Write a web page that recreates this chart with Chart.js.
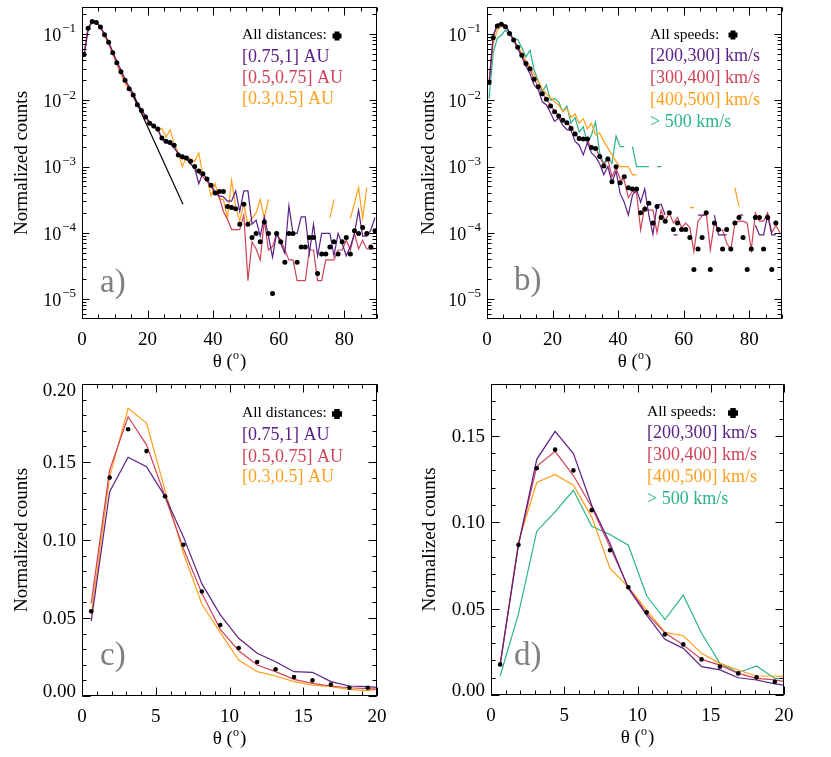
<!DOCTYPE html>
<html>
<head>
<meta charset="utf-8">
<title>Normalized counts vs theta</title>
<script src="https://cdn.jsdelivr.net/npm/chart.js@4.4.1/dist/chart.umd.min.js"></script>
<style>
  html, body { margin: 0; padding: 0; background: #fff; }
  canvas { position: absolute; }
</style>
</head>
<body>
<canvas id="panelA" width="415" height="380" style="left:0;top:0"></canvas>
<canvas id="panelB" width="416" height="380" style="left:415px;top:0"></canvas>
<canvas id="panelC" width="415" height="377" style="left:0;top:380px"></canvas>
<canvas id="panelD" width="416" height="377" style="left:415px;top:380px"></canvas>
<script>
// bin centres (deg), 1.25 deg bins
const thetaWide = [
  0.625, 1.875, 3.125, 4.375, 5.625, 6.875, 8.125, 9.375,
  10.625, 11.875, 13.125, 14.375, 15.625, 16.875, 18.125, 19.375,
  20.625, 21.875, 23.125, 24.375, 25.625, 26.875, 28.125, 29.375,
  30.625, 31.875, 33.125, 34.375, 35.625, 36.875, 38.125, 39.375,
  40.625, 41.875, 43.125, 44.375, 45.625, 46.875, 48.125, 49.375,
  50.625, 51.875, 53.125, 54.375, 55.625, 56.875, 58.125, 59.375,
  60.625, 61.875, 63.125, 64.375, 65.625, 66.875, 68.125, 69.375,
  70.625, 71.875, 73.125, 74.375, 75.625, 76.875, 78.125, 79.375,
  80.625, 81.875, 83.125, 84.375, 85.625, 86.875, 88.125, 89.375
];
const thetaNarrow = [0.625, 1.875, 3.125, 4.375, 5.625, 6.875, 8.125, 9.375,
  10.625, 11.875, 13.125, 14.375, 15.625, 16.875, 18.125, 19.375, 20.625];

// a) log scale, by distance
const allDistA = [
  0.049, 0.122, 0.154, 0.149, 0.128, 0.098, 0.075, 0.052,
  0.037, 0.027, 0.020, 0.015, 0.012, 0.0086, 0.0070, 0.0056,
  0.0045, 0.0041, 0.0037, 0.0027, 0.0024, 0.0023, 0.0021, 0.0015,
  0.0014, 0.00135, 0.0012, 0.0010, 0.00086, 0.00078, 0.00065, 0.00052,
  0.00040, 0.00042, 0.00042, 0.00025, 0.00024, 0.00023, 0.000135, 0.00027,
  0.000135, 8.5e-5, 9.8e-5, 7.3e-5, 0.000146, 9.8e-5, 1.21e-5, 9.8e-5,
  7.3e-5, 3.6e-5, 9.8e-5, 9.8e-5, 3.6e-5, 6.1e-5, 6.1e-5, 8.5e-5,
  8.5e-5, 2.43e-5, 4.8e-5, 4.8e-5, 6.1e-5, 7.3e-5, 4.8e-5, 7.3e-5,
  8.5e-5, 4.8e-5, 1.07e-4, 9.8e-5, 1.2e-4, 9.8e-5, 6.1e-5, 1.07e-4
];
const au075to1A = [
  0.045, 0.118, 0.152, 0.150, 0.130, 0.100, 0.077, 0.054,
  0.039, 0.029, 0.021, 0.0162, 0.0125, 0.0092, 0.0074, 0.0058,
  0.0047, 0.0042, 0.0036, 0.0027, 0.0023, 0.0022, 0.0019, 0.0016,
  0.0014, 0.0013, 0.0011, 0.00095, 0.00055, 0.00080, 0.00065, 0.00050,
  0.00042, 0.00036, 0.00035, 0.00030, 0.00030, 0.00043, 0.00021, 0.00043,
  0.00043, 0.000135, 0.000155, 8.9e-5, 0.000174, 8.9e-5, 4.3e-5, 9.8e-5,
  6.9e-5, 4.9e-5, 0.000255, 9.8e-5, 9.8e-5, 0.000174, 0.000174, 4.9e-5,
  0.000135, 4.5e-5, 9.8e-5, 9.8e-5, 9.8e-5, 4.5e-5, 9.8e-5, 6.9e-5,
  4.5e-5, 6.2e-5, 9.8e-5, 0.00022, 8.9e-5, 8.9e-5, 0.00011, 0.00017
];
const au05to075A = [
  0.052, 0.125, 0.158, 0.150, 0.126, 0.097, 0.073, 0.051,
  0.036, 0.026, 0.0195, 0.0148, 0.0116, 0.0084, 0.0068, 0.0055,
  0.0044, 0.0040, 0.0036, 0.0026, 0.0023, 0.0022, 0.0020, 0.0015,
  0.0013, 0.0013, 0.0011, 0.00095, 0.00080, 0.00070, 0.00060, 0.00050,
  0.00040, 0.00035, 0.00021, 0.00016, 0.000112, 0.000112, 0.000112, 0.000186,
  1.9e-5, 7.3e-5, 5.7e-5, 3.9e-5, 0.000155, 5.5e-5, 6.2e-5, 9.8e-5,
  7.7e-5, 5.5e-5, 3.9e-5, 3.9e-5, 1.9e-5, 1.9e-5, 1.9e-5, 5.5e-5,
  5.5e-5, 1.9e-5, 1.9e-5, 3.9e-5, 3.9e-5, 3.9e-5, 5.5e-5, 5.5e-5,
  7.7e-5, 5.5e-5, 9.8e-5, 5.7e-5, 7.7e-5, 5.7e-5, 5.7e-5, 5.7e-5
];
const au03to05A = [
  0.050, 0.125, 0.160, 0.152, 0.125, 0.094, 0.070, 0.050,
  0.035, 0.025, 0.018, 0.015, 0.0115, 0.0085, 0.0068, 0.0056,
  0.0045, 0.0040, 0.0034, 0.0038, 0.0028, 0.0036, 0.0022, 0.0016,
  0.0010, 0.0014, 0.0013, 0.0012, 0.0016, 0.00075, 0.00065, 0.00036,
  0.00055, 0.00032, 0.00032, 0.000166, 0.00062, 0.00025, 0.00015, 0.00027,
  0.000135, 0.000166, 0.00020, 0.00032, 0.000166, 0.00032, null, null,
  null, null, null, null, null, null, null, null,
  null, null, null, null, 0.000166, 0.00032, null, null,
  null, 0.000166, 0.00028, 0.00048, 0.000166, 0.00048, null, null
];
// exponential fit drawn in a)
const fitThetaA = [15.6, 30.8];
const fitCountsA = [0.012, 0.00027];

// b) log scale, by speed
const allSpeedB = [
  0.0186, 0.088, 0.132, 0.140, 0.129, 0.102, 0.081, 0.063,
  0.048, 0.036, 0.030, 0.0207, 0.016, 0.0126, 0.0104, 0.0082,
  0.0067, 0.0058, 0.0050, 0.0046, 0.0038, 0.0031, 0.00266, 0.0026,
  0.0026, 0.00194, 0.00187, 0.00142, 0.00102, 0.0013, 0.00059, 0.00099,
  0.00057, 0.00070, 0.00048, 0.00046, 0.00046, 0.00020, 0.000227, 0.00028,
  0.00014, 0.00025, 0.00017, 0.00015, 0.00020, 0.000112, 0.00014, 0.000112,
  0.000112, 8.5e-5, 2.8e-5, 5.7e-5, 8.5e-5, 0.00020, 2.8e-5, 0.00014,
  0.000112, 5.7e-5, 0.000112, 5.7e-5, 0.00014, 0.00017, 8.5e-5, 2.8e-5,
  5.7e-5, 0.00017, 0.00017, 5.7e-5, 0.00017, 2.8e-5, 0.00014, null
];
const v200to300B = [
  0.017, 0.095, 0.140, 0.145, 0.135, 0.105, 0.080, 0.060,
  0.045, 0.033, 0.025, 0.017, 0.0145, 0.0095, 0.0085, 0.0065,
  0.0048, 0.0054, 0.0042, 0.0036, 0.0035, 0.0024, 0.0021, 0.0015,
  0.0023, 0.0016, 0.0014, 0.0011, 0.00075, 0.0010, 0.00058, 0.00085,
  0.00039, 0.00029, 0.000185, 0.00037, 0.00045, 0.00029, 0.00046, 0.000185,
  9.5e-5, 0.00026, 0.00027, 0.000185, null, 9.3e-5, 9.3e-5, null,
  null, null, null, 0.000185, 0.000185, 0.000185, null, 0.000185,
  9.3e-5, 9.3e-5, 9.3e-5, null, null, 0.000185, 0.000185, null,
  null, 0.00013, 9.3e-5, 9.3e-5, 0.000185, 9.3e-5, 9.3e-5, null
];
const v300to400B = [
  0.018, 0.090, 0.135, 0.142, 0.133, 0.104, 0.082, 0.063,
  0.048, 0.036, 0.029, 0.021, 0.016, 0.0125, 0.0105, 0.0085,
  0.0068, 0.0059, 0.0049, 0.0047, 0.0038, 0.0032, 0.0026, 0.0027,
  0.0025, 0.0019, 0.0019, 0.0014, 0.00105, 0.0013, 0.00070, 0.00095,
  0.00065, 0.00062, 0.00034, 0.00042, 0.00040, 0.00011, 0.00025, 0.00022,
  0.00022, 0.00010, 0.00022, 0.00015, 0.00020, 0.00014, 0.00017, 0.00012,
  0.00014, 0.00012, 5.2e-5, 0.00015, 0.00018, 0.00020, 5.5e-5, 0.00014,
  0.00011, 0.00011, 7.0e-5, 5.5e-5, 0.00014, 0.00015, 0.00015, 0.00014,
  5.5e-5, 0.00020, 0.00015, 0.00015, 0.00020, 0.00010, 0.00013, 0.00010
];
const v400to500B = [
  0.020, 0.070, 0.115, 0.130, 0.130, 0.105, 0.085, 0.066,
  0.052, 0.040, 0.032, 0.025, 0.019, 0.015, 0.0125, 0.011,
  0.0095, 0.0085, 0.0068, 0.0075, 0.0055, 0.0062, 0.0045, 0.0053,
  0.0037, 0.0045, 0.0030, 0.0032, 0.0024, 0.0019, 0.0015, 0.0012,
  0.0010, 0.0010, 0.0010, 0.00075, 0.00075, null, null, null,
  null, null, null, null, null, null, null, null,
  null, 0.00024, 0.00024, null, null, null, null, null,
  null, null, null, null, 0.00048, 0.00025, null, null,
  null, null, null, null, null, null, null, null
];
const v500upB = [
  0.0107, 0.051, 0.086, 0.096, 0.115, 0.096, 0.086, 0.083,
  0.062, 0.045, 0.057, 0.0286, 0.020, 0.0135, 0.017, 0.010,
  0.0107, 0.0095, 0.0068, 0.0082, 0.0045, 0.0055, 0.0033, 0.0040,
  0.0022, 0.0030, 0.0047, 0.0016, 0.0011, 0.0014, 0.0011, 0.0029,
  0.0020, 0.0020, null, 0.0020, 0.0010, 0.0010, 0.0010, 0.0010,
  null, 0.0010, 0.0010, null, null, null, null, null,
  null, null, null, null, null, null, null, null,
  null, null, null, null, null, null, null, null,
  null, null, null, null, null, null, null, null
];

// c) linear scale, by distance
const allDistC   = [0.0543, 0.140, 0.171, 0.157, 0.128, 0.097, 0.067, 0.0455, 0.0308, 0.0218, 0.0171, 0.0122, 0.0100, 0.0073, 0.0053, 0.0053, null];
const au075to1C  = [0.048, 0.131, 0.153, 0.147, 0.128, 0.102, 0.072, 0.052, 0.037, 0.0274, 0.022, 0.0156, 0.0152, 0.0092, 0.0064, 0.0060, 0.0050];
const au05to075C = [0.0594, 0.145, 0.179, 0.161, 0.128, 0.0946, 0.0658, 0.0427, 0.029, 0.0199, 0.0156, 0.0107, 0.0081, 0.0064, 0.0053, 0.0047, 0.0040];
const au03to05C  = [0.052, 0.1406, 0.1844, 0.175, 0.132, 0.0915, 0.059, 0.0406, 0.0231, 0.0156, 0.0128, 0.0092, 0.0070, 0.0060, 0.0043, 0.0034, 0.0050];

// d) linear scale, by speed
const allSpeedD  = [0.0177, 0.0869, 0.1312, 0.142, 0.130, 0.107, 0.0838, 0.0624, 0.0478, 0.0351, 0.0293, 0.0206, 0.0164, 0.0125, 0.0102, 0.0077, null];
const v200to300D = [0.0177, 0.087, 0.1364, 0.1526, 0.1397, 0.1098, 0.0877, 0.0617, 0.0462, 0.0322, 0.027, 0.0164, 0.0145, 0.0100, 0.0087, 0.0064, 0.0050];
const v300to400D = [0.0175, 0.087, 0.1324, 0.141, 0.127, 0.1088, 0.0857, 0.0624, 0.0472, 0.036, 0.029, 0.0206, 0.0173, 0.0125, 0.0096, 0.0087, 0.0070];
const v400to500D = [0.0175, 0.0886, 0.123, 0.1277, 0.1214, 0.1031, 0.0732, 0.0624, 0.0491, 0.0362, 0.0343, 0.0241, 0.0183, 0.0145, 0.0110, 0.0110, 0.0105];
const v500upD    = [0.011, 0.047, 0.0948, 0.106, 0.1185, 0.0977, 0.0929, 0.0867, 0.0574, 0.0437, 0.0578, 0.0357, 0.0183, 0.0129, 0.0168, 0.0096, 0.0096];

// axis ticks
const xTicksWide = [0, 20, 40, 60, 80];
const xTicksNarrow = [0, 5, 10, 15, 20];
const logExponents = [-5, -4, -3, -2, -1];
const yTicksC = [0, 0.05, 0.10, 0.15, 0.20];
const yTicksD = [0, 0.05, 0.10, 0.15];

const SERIF = '"Liberation Serif", "Times New Roman", serif';
const PURPLE = '#5b2085', RED = '#cf4358', ORANGE = '#ff9f1c', GREEN = '#2bb38c';

// pair the bin centres with a series
const pts = (xs, ys) => xs.map((x, i) => ({ x: x, y: ys[i] }));
const line = (xs, ys, color) => ({
  data: pts(xs, ys), showLine: true, borderColor: color, borderWidth: 1.2,
  pointRadius: 0, spanGaps: false
});
const dots = (xs, ys, r) => ({
  data: pts(xs, ys), showLine: false, pointRadius: r,
  pointBackgroundColor: '#000', pointBorderWidth: 0
});

// frame, inward ticks, labels, legend text and panel letter
const decor = {
  id: 'decor',
  afterDraw(chart, args, o) {
    const ctx = chart.ctx, a = chart.chartArea;
    const sx = chart.scales.x, sy = chart.scales.y;
    const L = a.left + 0.5, R = a.right - 0.5, T = a.top + 0.5, B = a.bottom - 0.5;
    ctx.save();
    ctx.strokeStyle = '#000';
    ctx.fillStyle = '#000';
    ctx.lineWidth = 1;
    ctx.strokeRect(L, T, R - L, B - T);

    const vTick = (v, len) => {
      const p = Math.round(sx.getPixelForValue(v)) + 0.5;
      ctx.beginPath();
      ctx.moveTo(p, B); ctx.lineTo(p, B - len);
      ctx.moveTo(p, T); ctx.lineTo(p, T + len);
      ctx.stroke();
    };
    const hTick = (v, len) => {
      const p = Math.round(sy.getPixelForValue(v)) + 0.5;
      ctx.beginPath();
      ctx.moveTo(L, p); ctx.lineTo(L + len, p);
      ctx.moveTo(R, p); ctx.lineTo(R - len, p);
      ctx.stroke();
    };

    for (let i = 0; sx.min + i * o.xMinor <= sx.max + 1e-9; i++) vTick(sx.min + i * o.xMinor, 4);
    o.xTicks.forEach(v => vTick(v, 8));

    if (o.log) {
      for (let e = -6; e <= 0; e++) {
        for (let k = 1; k <= 9; k++) {
          const v = k * Math.pow(10, e);
          if (v > sy.min && v < sy.max) hTick(v, k === 1 ? 7 : 4);
        }
      }
    } else {
      for (let i = 0; sy.min + i * o.yMinor <= sy.max + 1e-9; i++) hTick(sy.min + i * o.yMinor, 4);
      o.yTicks.forEach(v => hTick(v, 8));
    }

    // tick labels
    ctx.textBaseline = 'middle';
    ctx.textAlign = 'center';
    ctx.font = '19px ' + SERIF;
    o.xTicks.forEach(v => ctx.fillText(String(v), sx.getPixelForValue(v), a.bottom + 21));

    if (o.log) {
      o.yTicks.forEach(e => {
        const py = sy.getPixelForValue(Math.pow(10, e));
        const right = a.left - 6;
        ctx.textAlign = 'right';
        ctx.font = '13px ' + SERIF;
        const sup = '\u2212' + (-e);
        const w = ctx.measureText(sup).width;
        ctx.fillText(sup, right, py - 5);
        ctx.font = '18px ' + SERIF;
        ctx.fillText('10', right - w - 1, py + 2);
      });
    } else {
      ctx.textAlign = 'right';
      ctx.font = '19px ' + SERIF;
      o.yTicks.forEach(v => {
        // labels at the frame edges are pulled inside, as in the original
        const py = Math.min(Math.max(sy.getPixelForValue(v), a.top + 6), a.bottom - 5);
        ctx.fillText(v.toFixed(2), a.left - 6, py + 1);
      });
    }

    // axis titles
    ctx.save();
    ctx.translate(o.yTitleX, (a.top + a.bottom) / 2);
    ctx.rotate(-Math.PI / 2);
    ctx.textAlign = 'center';
    ctx.font = '19px ' + SERIF;
    ctx.fillText('Normalized counts', 0, 0);
    ctx.restore();

    ctx.textAlign = 'left';
    ctx.font = '19px ' + SERIF;
    const w1 = ctx.measureText('\u03b8 (').width, w3 = ctx.measureText(')').width;
    ctx.font = '12px ' + SERIF;
    const w2 = ctx.measureText('o').width;
    let tx = (a.left + a.right) / 2 - (w1 + w2 + w3 + 1) / 2;
    const ty = a.bottom + 43;
    ctx.font = '19px ' + SERIF;
    ctx.fillText('\u03b8 (', tx, ty);
    ctx.font = '12px ' + SERIF;
    ctx.fillText('o', tx + w1, ty - 6);
    ctx.font = '19px ' + SERIF;
    ctx.fillText(')', tx + w1 + w2 + 1, ty);

    // legend text
    o.legend.forEach((item, i) => {
      ctx.fillStyle = item[1];
      ctx.font = item[2] + 'px ' + SERIF;
      ctx.fillText(item[0], o.legendX, o.legendY[i]);
    });
    ctx.fillStyle = '#000';
    const s = o.markSize, t = s * 0.55;
    ctx.fillRect(o.markX - s / 2, o.markY - t / 2, s, t);
    ctx.fillRect(o.markX - t / 2, o.markY - s / 2, t, s);

    // panel letter
    ctx.fillStyle = '#808080';
    ctx.font = '33px ' + SERIF;
    ctx.textBaseline = 'alphabetic';
    ctx.fillText(o.tag, o.tagX, o.tagY);
    ctx.restore();
  }
};

function panel(id, box, xRange, yAxis, datasets, opts) {
  const cv = document.getElementById(id);
  return new Chart(cv, {
    type: 'scatter',
    data: { datasets: datasets },
    options: {
      responsive: false,
      animation: false,
      events: [],
      layout: { padding: { left: 0, top: box.top, right: cv.width - box.right, bottom: 0 } },
      scales: {
        x: {
          type: 'linear', min: xRange[0], max: xRange[1], bounds: 'data',
          ticks: { display: false }, grid: { display: false }, border: { display: false },
          afterFit: s => { s.height = cv.height - box.bottom; }
        },
        y: {
          type: yAxis.type, min: yAxis.min, max: yAxis.max, bounds: 'data',
          ticks: { display: false }, grid: { display: false }, border: { display: false },
          afterFit: s => { s.width = box.left; }
        }
      },
      plugins: { legend: { display: false }, tooltip: { enabled: false }, decor: opts }
    },
    plugins: [decor]
  });
}

const legendDist = [
  ['All distances:', '#000', 15.5],
  ['[0.75,1] AU', PURPLE, 18],
  ['[0.5,0.75] AU', RED, 18],
  ['[0.3,0.5] AU', ORANGE, 18]
];
const legendSpeed = [
  ['All speeds:', '#000', 15.5],
  ['[200,300] km/s', PURPLE, 18],
  ['[300,400] km/s', RED, 18],
  ['[400,500] km/s', ORANGE, 18],
  ['> 500 km/s', GREEN, 18]
];

panel('panelA', { left: 82, right: 377, top: 7, bottom: 319 }, [0, 90],
  { type: 'logarithmic', min: 5e-6, max: 0.256 },
  [
    dots(thetaWide, allDistA, 2.5),
    { data: pts(fitThetaA, fitCountsA), showLine: true, borderColor: '#000', borderWidth: 1.2, pointRadius: 0 },
    line(thetaWide, au075to1A, PURPLE),
    line(thetaWide, au05to075A, RED),
    line(thetaWide, au03to05A, ORANGE)
  ],
  { xTicks: xTicksWide, xMinor: 5, log: true, yTicks: logExponents, yTitleX: 22,
    legend: legendDist, legendX: 242, legendY: [35, 57, 78, 99],
    markX: 337, markY: 36, markSize: 9, tag: 'a)', tagX: 100, tagY: 292 });

panel('panelB', { left: 72, right: 367, top: 7, bottom: 319 }, [0, 90],
  { type: 'logarithmic', min: 5e-6, max: 0.256 },
  [
    dots(thetaWide, allSpeedB, 2.5),
    line(thetaWide, v200to300B, PURPLE),
    line(thetaWide, v300to400B, RED),
    line(thetaWide, v400to500B, ORANGE),
    line(thetaWide, v500upB, GREEN)
  ],
  { xTicks: xTicksWide, xMinor: 5, log: true, yTicks: logExponents, yTitleX: 14,
    legend: legendSpeed, legendX: 235, legendY: [35, 56, 78, 100, 122],
    markX: 318, markY: 35, markSize: 9, tag: 'b)', tagX: 99, tagY: 290 });

panel('panelC', { left: 82, right: 377, top: 4, bottom: 316 }, [0, 20],
  { type: 'linear', min: 0, max: 0.20 },
  [
    dots(thetaNarrow, allDistC, 2.3),
    line(thetaNarrow, au075to1C, PURPLE),
    line(thetaNarrow, au05to075C, RED),
    line(thetaNarrow, au03to05C, ORANGE)
  ],
  { xTicks: xTicksNarrow, xMinor: 1, log: false, yTicks: yTicksC, yMinor: 0.01, yTitleX: 22,
    legend: legendDist, legendX: 242, legendY: [33, 55, 77, 97],
    markX: 337, markY: 34, markSize: 10, tag: 'c)', tagX: 100, tagY: 285 });

panel('panelD', { left: 76, right: 369, top: 4, bottom: 315 }, [0, 20],
  { type: 'linear', min: 0, max: 0.18 },
  [
    dots(thetaNarrow, allSpeedD, 2.3),
    line(thetaNarrow, v200to300D, PURPLE),
    line(thetaNarrow, v300to400D, RED),
    line(thetaNarrow, v400to500D, ORANGE),
    line(thetaNarrow, v500upD, GREEN)
  ],
  { xTicks: xTicksNarrow, xMinor: 1, log: false, yTicks: yTicksD, yMinor: 0.01, yTitleX: 15,
    legend: legendSpeed, legendX: 232, legendY: [32, 53, 75, 97, 119],
    markX: 318, markY: 33, markSize: 10, tag: 'd)', tagX: 99, tagY: 285 });
</script>
</body>
</html>
